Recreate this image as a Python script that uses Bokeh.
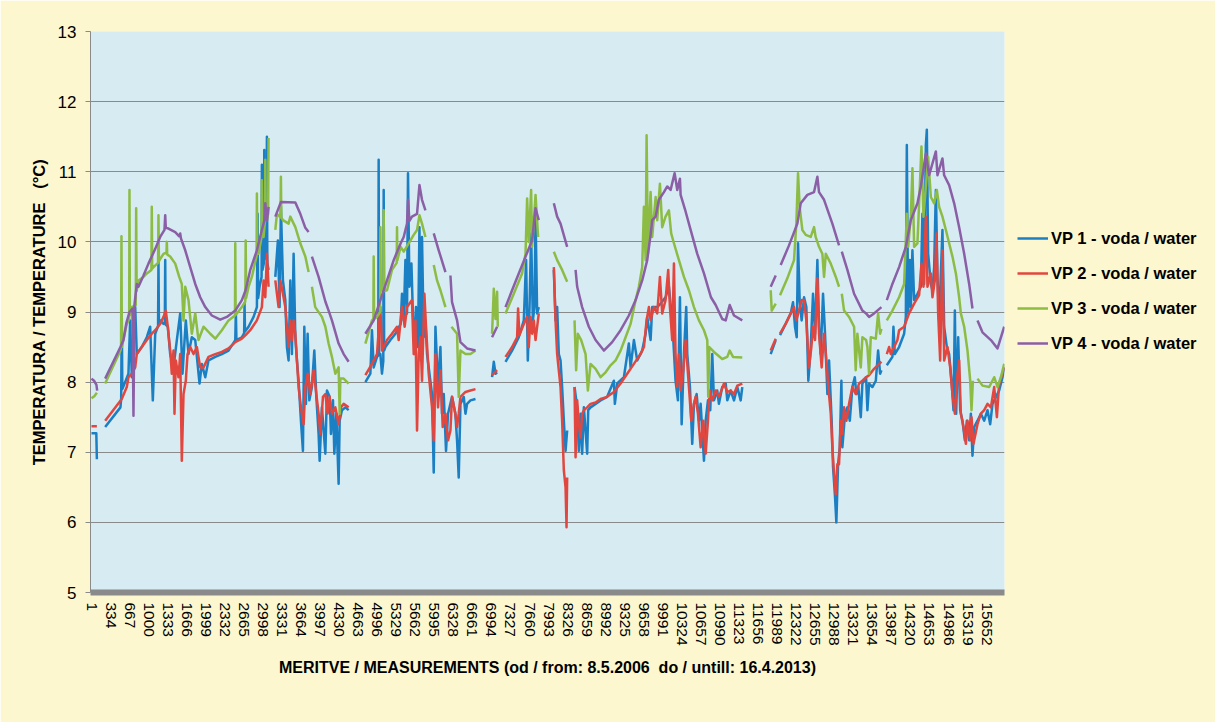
import numpy as np
from bokeh.plotting import figure
from bokeh.models import Range1d, FixedTicker, Legend, LegendItem
from bokeh.embed import file_html
from bokeh.resources import INLINE

# ---------------- data (measurement index, temperature °C); None = no data ----------------
x_tick_values = [1, 334, 667, 1000, 1333, 1666, 1999, 2332, 2665, 2998, 3331, 3664, 3997, 4330,
                 4663, 4996, 5329, 5662, 5995, 6328, 6661, 6994, 7327, 7660, 7993, 8326, 8659,
                 8992, 9325, 9658, 9991, 10324, 10657, 10990, 11323, 11656, 11989, 12322, 12655,
                 12988, 13321, 13654, 13987, 14320, 14653, 14986, 15319, 15652]
x_tick_labels = ["1", "334", "667", "1000", "1333", "1666", "1999", "2332", "2665", "2998", "3331",
                 "3664", "3997", "4330", "4663", "4996", "5329", "5662", "5995", "6328", "6661",
                 "6994", "7327", "7660", "7993", "8326", "8659", "8992", "9325", "9658", "9991",
                 "10324", "10657", "10990", "11323", "11656", "11989", "12322", "12655", "12988",
                 "13321", "13654", "13987", "14320", "14653", "14986", "15319", "15652"]
y_tick_values = [5, 6, 7, 8, 9, 10, 11, 12, 13]

series_names = ["VP 1 - voda / water", "VP 2 - voda / water",
                "VP 3 - voda / water", "VP 4 - voda / water"]

vp1 = [(1, 7.27), (85, 7.27), (95, 6.9), (170, None),
       (240, 7.36), (507, 7.64), (520, 7.76), (530, 8.98), (540, 7.9), (647, 8.12), (677, 8.88),
       (706, 8.07), (765, 9.07), (793, 8.4), (880, 8.5), (968, 8.64), (1027, 8.79), (1073, 7.74),
       (1115, 8.69), (1165, 8.8), (1172, 9.74), (1180, 8.85), (1202, 8.88), (1260, 8.83),
       (1283, 8.85), (1290, 9.74), (1297, 8.82), (1335, 8.79), (1377, 8.4), (1435, 8.21),
       (1493, 8.6), (1552, 8.98), (1592, 8.12), (1650, 8.88), (1697, 8.4), (1755, 8.64),
       (1815, 8.6), (1890, 7.98), (1930, 8.26), (1990, 8.07), (2047, 8.31), (2165, 8.36),
       (2280, 8.4), (2397, 8.45), (2515, 8.6), (2525, 9.0), (2535, 8.6), (2630, 8.64),
       (2670, 8.7), (2677, 9.12), (2685, 8.72), (2747, 8.79), (2835, 8.93), (2893, 9.07),
       (2905, 10.4), (2915, 9.2), (2940, 9.36), (2975, 9.5), (2980, 11.1), (2990, 9.6),
       (3015, 9.7), (3022, 11.31), (3030, 9.75), (3040, 9.83), (3062, 9.9), (3068, 11.5),
       (3075, 9.7), (3097, 9.6), (3150, None),
       (3215, 9.5), (3260, 10.02), (3290, 9.07), (3313, 10.5), (3348, 9.45), (3390, 9.17),
       (3418, 8.5), (3447, 8.31), (3477, 9.45), (3505, 8.4), (3535, 9.83), (3565, 8.64),
       (3593, 8.31), (3622, 8.02), (3663, 7.45), (3698, 7.02), (3722, 8.79), (3750, 7.69),
       (3780, 8.69), (3810, 7.74), (3855, 7.93), (3897, 8.45), (3932, 7.79), (3972, 7.26),
       (3990, 6.88), (4030, 7.64), (4090, 6.98), (4118, 7.88), (4165, 7.79), (4188, 7.26),
       (4223, 7.74), (4247, 6.98), (4282, 7.55), (4322, 6.55), (4340, 7.45), (4380, 7.6),
       (4440, 7.64), (4497, 7.6), (4650, None),
       (4790, 8.0), (4877, 8.12), (4905, 8.74), (4935, 8.21), (4993, 8.36), (5015, 8.38),
       (5022, 11.17), (5030, 8.4), (5052, 8.4), (5080, 8.12), (5103, 8.3), (5110, 10.74),
       (5118, 8.45), (5140, 8.5), (5227, 8.6), (5315, 8.69), (5407, 8.83), (5430, 9.26),
       (5460, 8.88), (5490, 9.74), (5518, 8.98), (5535, 10.98), (5560, 9.36), (5595, 9.69),
       (5617, 9.07), (5652, 8.4), (5675, 9.07), (5710, 8.5), (5735, 10.21), (5757, 8.31),
       (5780, 10.07), (5810, 8.64), (5840, 8.88), (5868, 8.4), (5955, 7.83), (5985, 6.71),
       (6015, 8.79), (6060, 7.93), (6102, 8.5), (6130, 7.55), (6160, 7.83), (6200, 7.02),
       (6235, 7.55), (6305, 7.79), (6363, 7.55), (6393, 7.17), (6422, 6.64), (6452, 7.69),
       (6510, 7.79), (6540, 7.55), (6568, 7.69), (6627, 7.74), (6715, 7.76), (6860, None),
       (7005, 8.07), (7035, 8.29), (7065, 8.12), (7093, 8.14), (7170, None),
       (7240, 8.29), (7355, 8.45), (7472, 8.64), (7560, 8.88), (7600, 9.74), (7630, 8.31),
       (7660, 9.07), (7688, 10.12), (7718, 8.88), (7747, 9.07), (7765, 10.4), (7793, 8.98),
       (7822, 9.07), (7950, None),
       (8085, 9.6), (8115, 8.88), (8143, 9.07), (8172, 8.4), (8202, 8.31), (8230, 7.93),
       (8260, 7.45), (8290, 7.02), (8318, 7.31), (8390, None),
       (8447, 7.93), (8493, 7.64), (8522, 7.02), (8552, 7.55), (8580, 6.98), (8610, 7.64),
       (8668, 6.98), (8686, 7.6), (8727, 7.64), (8815, 7.69), (8902, 7.74), (9018, 7.79),
       (9135, 8.02), (9152, 7.69), (9193, 7.98), (9310, 8.07), (9397, 8.55), (9427, 8.21),
       (9485, 8.6), (9543, 8.31), (9630, 8.45), (9690, 8.69), (9718, 8.93), (9777, 8.6),
       (9805, 9.07), (9893, 9.07), (9952, 9.12), (10038, 9.21), (10097, 9.36), (10155, 8.88),
       (10213, 8.02), (10255, 7.74), (10290, 9.21), (10320, 7.4), (10360, 8.4), (10400, 9.07),
       (10418, 8.4), (10465, 7.93), (10505, 7.12), (10535, 7.69), (10582, 7.83), (10622, 7.45),
       (10652, 7.69), (10710, 6.88), (10740, 7.45), (10780, 7.74), (10820, 7.6), (10855, 8.4),
       (10885, 7.74), (10943, 7.88), (10972, 7.69), (11030, 7.93), (11090, 7.98), (11118, 7.74),
       (11177, 7.88), (11235, 7.74), (11293, 7.93), (11352, 7.74), (11380, 7.93), (11600, None),
       (11877, 8.4), (11965, 8.6), (12005, None),
       (12040, 8.67), (12138, 8.83), (12227, 8.98), (12267, 9.14), (12302, 8.79), (12332, 8.64),
       (12355, 9.98), (12383, 9.17), (12418, 8.88), (12460, 9.21), (12500, 9.07), (12535, 8.02),
       (12577, 8.5), (12617, 9.26), (12652, 8.69), (12693, 9.74), (12722, 8.79), (12752, 8.4),
       (12792, 9.26), (12827, 8.69), (12868, 7.83), (12897, 8.31), (12943, 7.45), (12967, 6.79),
       (13002, 6.36), (13025, 6.0), (13055, 6.83), (13085, 7.07), (13113, 8.02), (13130, 7.07),
       (13177, 7.55), (13218, 7.64), (13260, 7.45), (13305, 7.93), (13347, 8.07), (13375, 7.83),
       (13410, 7.93), (13452, 7.5), (13480, 7.98), (13545, 8.07), (13568, 7.6), (13597, 7.98),
       (13655, 7.93), (13715, 8.02), (13755, 8.45), (13790, 8.12), (13813, 8.17), (13860, None),
       (13907, 8.24), (14005, 8.36), (14023, 8.79), (14047, 8.4), (14122, 8.5), (14210, 8.69),
       (14240, 8.93), (14257, 11.38), (14280, 8.98), (14310, 9.74), (14327, 9.07), (14355, 9.88),
       (14385, 9.17), (14443, 9.26), (14502, 9.36), (14530, 10.4), (14560, 9.4), (14590, 11.38),
       (14607, 11.6), (14630, 9.83), (14677, 9.4), (14705, 9.31), (14735, 9.64), (14765, 10.74),
       (14793, 9.5), (14822, 8.88), (14880, 10.17), (14910, 8.79), (14957, 8.5), (14997, 8.4),
       (15038, 8.02), (15073, 7.6), (15097, 9.02), (15120, 7.55), (15155, 8.64), (15190, 7.6),
       (15230, 7.45), (15272, 7.17), (15307, 7.45), (15347, 7.17), (15377, 7.55), (15405, 6.95),
       (15435, 7.36), (15493, 7.45), (15552, 7.55), (15610, 7.45), (15668, 7.6), (15715, 7.4),
       (15755, 7.69), (15815, 7.79), (15872, 7.88), (15930, 8.07), (15960, 8.21)]

vp2 = [(1, 7.37), (95, 7.37), (170, None),
       (240, 7.45), (530, 7.76), (618, 7.93), (647, 8.07), (706, 8.12), (765, 8.21), (793, 8.4),
       (880, 8.5), (968, 8.6), (1055, 8.69), (1115, 8.74), (1202, 8.83), (1260, 8.93),
       (1300, 9.02), (1335, 8.79), (1377, 8.45), (1405, 8.12), (1435, 8.45), (1452, 7.55),
       (1475, 8.31), (1522, 8.07), (1552, 8.4), (1580, 6.88), (1610, 7.83), (1650, 8.02),
       (1680, 8.4), (1727, 8.5), (1785, 8.4), (1843, 8.5), (1902, 8.21), (1960, 8.21),
       (2047, 8.36), (2165, 8.4), (2280, 8.43), (2397, 8.48), (2515, 8.57), (2630, 8.62),
       (2695, 8.67), (2777, 8.74), (2893, 8.88), (2980, 9.07), (3010, 9.45), (3040, 9.21),
       (3068, 9.83), (3097, 9.36), (3150, None),
       (3215, 9.45), (3272, 9.07), (3302, 9.45), (3348, 9.26), (3390, 9.07), (3418, 8.79),
       (3447, 8.5), (3477, 8.88), (3505, 8.6), (3535, 8.88), (3565, 8.69), (3593, 8.31),
       (3622, 7.93), (3663, 7.64), (3710, 7.4), (3740, 7.93), (3780, 8.12), (3827, 7.83),
       (3885, 8.17), (3932, 7.83), (3972, 7.55), (4002, 7.26), (4048, 7.79), (4090, 7.83),
       (4130, 7.55), (4165, 7.79), (4205, 7.55), (4265, 7.64), (4322, 7.4), (4363, 7.64),
       (4410, 7.69), (4497, 7.64), (4650, None),
       (4790, 8.1), (4905, 8.26), (4993, 8.4), (5052, 9.07), (5080, 8.45), (5168, 8.6),
       (5255, 8.69), (5343, 8.79), (5372, 8.6), (5407, 8.88), (5430, 9.07), (5477, 8.79),
       (5518, 9.07), (5577, 9.14), (5605, 9.17), (5635, 8.4), (5665, 8.88), (5693, 7.31),
       (5722, 8.4), (5752, 8.64), (5780, 8.02), (5822, 9.26), (5850, 8.79), (5897, 8.12),
       (5955, 7.64), (5985, 7.17), (6015, 8.4), (6060, 7.64), (6102, 8.17), (6142, 7.36),
       (6190, 7.55), (6235, 7.17), (6277, 7.31), (6305, 7.79), (6363, 7.55), (6393, 7.36),
       (6422, 7.55), (6452, 7.79), (6540, 7.86), (6627, 7.88), (6715, 7.9), (6860, None),
       (7005, 8.1), (7093, 8.17), (7170, None),
       (7240, 8.36), (7355, 8.5), (7443, 8.64), (7460, 9.05), (7483, 8.67), (7560, 8.83),
       (7618, 8.93), (7647, 8.5), (7677, 8.93), (7705, 8.69), (7735, 8.88), (7765, 8.6),
       (7822, 8.98), (7950, None),
       (8085, 9.64), (8115, 8.88), (8143, 8.4), (8202, 7.93), (8230, 7.45), (8260, 6.74),
       (8290, 6.5), (8307, 5.93), (8318, 6.64), (8390, None),
       (8447, 7.93), (8465, 6.93), (8493, 7.74), (8522, 7.4), (8552, 7.21), (8580, 7.55),
       (8610, 7.6), (8668, 7.64), (8727, 7.69), (8815, 7.71), (8902, 7.76), (9018, 7.79),
       (9135, 7.86), (9252, 7.98), (9368, 8.12), (9485, 8.26), (9602, 8.4), (9660, 8.5),
       (9707, 8.88), (9747, 9.07), (9777, 8.88), (9835, 9.07), (9893, 8.98), (9940, 9.5),
       (9980, 8.98), (10038, 9.17), (10085, 9.6), (10115, 9.07), (10155, 8.6), (10185, 9.69),
       (10213, 8.4), (10243, 7.93), (10272, 8.4), (10302, 7.88), (10348, 8.17), (10390, 8.6),
       (10418, 8.26), (10447, 7.93), (10488, 7.45), (10535, 7.69), (10565, 7.79), (10605, 7.55),
       (10652, 7.07), (10698, 7.45), (10740, 6.98), (10780, 7.45), (10810, 7.88), (10855, 7.74),
       (10915, 7.88), (10972, 7.79), (11060, 7.98), (11118, 7.86), (11177, 7.88), (11235, 7.83),
       (11293, 7.95), (11380, 7.98), (11600, None),
       (11877, 8.45), (11965, 8.62), (12005, None),
       (12040, 8.69), (12138, 8.83), (12227, 8.98), (12285, 9.07), (12325, 8.88), (12372, 9.02),
       (12418, 9.17), (12460, 9.17), (12500, 8.88), (12547, 8.21), (12588, 8.5), (12617, 8.79),
       (12652, 8.6), (12693, 9.48), (12722, 8.69), (12768, 8.21), (12810, 8.69), (12850, 8.31),
       (12885, 7.93), (12927, 7.55), (12955, 7.07), (12985, 6.69), (13015, 6.4), (13043, 6.83),
       (13072, 6.83), (13102, 7.45), (13130, 7.26), (13160, 7.64), (13200, 7.45), (13247, 7.69),
       (13305, 7.93), (13363, 7.83), (13422, 7.98), (13480, 8.02), (13545, 8.07), (13597, 8.1),
       (13685, 8.19), (13772, 8.26), (13813, 8.29), (13860, None),
       (13907, 8.4), (13947, 8.5), (13977, 8.4), (14093, 8.6), (14122, 8.74), (14210, 8.79),
       (14297, 8.98), (14385, 9.12), (14472, 9.24), (14513, 9.69), (14548, 9.36), (14590, 10.36),
       (14618, 9.36), (14677, 9.55), (14705, 9.21), (14747, 9.45), (14775, 10.12), (14805, 8.98),
       (14840, 8.31), (14880, 9.88), (14910, 8.31), (14968, 8.5), (15015, 8.21), (15055, 7.83),
       (15097, 7.55), (15143, 8.12), (15172, 8.31), (15202, 7.55), (15248, 7.36), (15290, 7.12),
       (15318, 7.45), (15365, 7.17), (15388, 7.5), (15423, 7.12), (15493, 7.4), (15552, 7.55),
       (15610, 7.6), (15668, 7.69), (15727, 7.64), (15785, 7.93), (15832, 7.5), (15872, 7.98),
       (15930, 8.12), (15960, 8.21)]

vp3 = [(1, 7.77), (50, 7.8), (95, 7.85), (170, None),
       (240, 7.98), (507, 8.45), (518, 8.5), (525, 10.08), (532, 8.5), (618, 8.83), (660, 8.9),
       (665, 10.74), (672, 8.95), (706, 9.07), (775, 9.1), (782, 10.48), (790, 9.3), (822, 9.45),
       (910, 9.5), (968, 9.55), (1048, 9.6), (1055, 10.5), (1062, 9.62), (1085, 9.64),
       (1165, 9.7), (1172, 10.38), (1180, 9.72), (1190, 9.74), (1260, 9.83), (1312, 9.85),
       (1318, 10.0), (1325, 9.82), (1377, 9.79), (1465, 9.69), (1535, 9.5), (1580, 9.4),
       (1610, 8.88), (1640, 9.36), (1697, 9.17), (1755, 8.69), (1815, 8.98), (1872, 8.6),
       (1960, 8.79), (2077, 8.69), (2165, 8.62), (2280, 8.74), (2397, 8.88), (2510, 8.95),
       (2515, 9.98), (2522, 8.96), (2543, 8.98), (2630, 9.07), (2690, 9.15), (2697, 10.02),
       (2705, 9.2), (2747, 9.36), (2805, 9.5), (2887, 9.8), (2893, 10.69), (2900, 9.83),
       (2922, 9.83), (2975, 10.07), (2980, 10.88), (2988, 10.1), (3010, 10.07), (3035, 10.3),
       (3040, 11.17), (3048, 10.31), (3068, 10.31), (3090, 10.4), (3097, 11.48), (3150, None),
       (3215, 10.17), (3243, 10.4), (3305, 10.35), (3313, 10.93), (3320, 10.35), (3348, 10.31),
       (3447, 10.26), (3477, 10.36), (3565, 10.21), (3652, 9.98), (3740, 9.79), (3797, 9.57),
       (3825, None),
       (3855, 9.36), (3913, 9.07), (4030, 8.93), (4090, 8.79), (4147, 8.55), (4205, 8.36),
       (4265, 8.12), (4322, 8.21), (4340, 7.55), (4352, 8.05), (4410, 8.05), (4497, 7.98),
       (4650, None),
       (4790, 8.55), (4905, 8.88), (4930, 8.9), (4935, 9.79), (4942, 8.9), (4993, 8.93),
       (5047, 9.0), (5052, 10.21), (5060, 9.3), (5080, 9.31), (5105, 9.35), (5110, 10.45),
       (5118, 9.3), (5168, 9.31), (5255, 9.6), (5337, 9.7), (5343, 10.21), (5350, 9.74),
       (5407, 9.93), (5460, 9.86), (5547, 9.98), (5635, 10.1), (5693, 10.17), (5735, 10.38),
       (5780, 10.26), (5840, 10.07), (5910, None),
       (5985, 9.67), (6043, 9.45), (6102, 9.31), (6190, 9.07), (6240, None),
       (6295, 8.79), (6393, 8.69), (6422, 7.79), (6452, 8.45), (6540, 8.4), (6627, 8.4),
       (6715, 8.45), (6860, None),
       (7005, 8.69), (7035, 9.33), (7065, 8.9), (7093, 9.29), (7105, 8.79), (7170, None),
       (7240, 8.98), (7385, 9.26), (7530, 9.55), (7590, 9.83), (7618, 10.62), (7647, 10.0),
       (7688, 10.74), (7705, 9.93), (7765, 10.67), (7810, 10.07), (7950, None),
       (8085, 9.86), (8143, 9.74), (8230, 9.6), (8318, 9.43), (8390, None),
       (8447, 8.88), (8475, 8.17), (8505, 8.69), (8563, 8.6), (8640, 8.4), (8680, 7.88),
       (8727, 8.26), (8815, 8.19), (8902, 8.07), (8990, 8.14), (9077, 8.24), (9165, 8.31),
       (9252, 8.45), (9340, 8.64), (9427, 8.83), (9515, 9.17), (9572, 9.36), (9630, 9.64),
       (9660, 10.5), (9690, 9.74), (9707, 11.52), (9730, 9.83), (9777, 10.71), (9805, 10.07),
       (9865, 10.64), (9893, 10.31), (9940, 10.83), (9980, 10.21), (10038, 10.36),
       (10097, 10.45), (10137, 10.12), (10185, 9.98), (10272, 9.74), (10360, 9.5),
       (10447, 9.31), (10535, 9.07), (10622, 8.88), (10710, 8.74), (10768, 8.6), (10785, 7.79),
       (10803, 8.5), (10885, 8.43), (11030, 8.33), (11118, 8.36), (11160, 8.45), (11218, 8.36),
       (11380, 8.35), (11600, None),
       (11877, 9.31), (11895, 9.02), (11965, 9.12), (12005, None),
       (12040, 9.24), (12168, 9.48), (12285, 9.74), (12325, 10.26), (12355, 10.98),
       (12383, 10.5), (12430, 10.17), (12490, 10.1), (12577, 10.07), (12635, 10.21),
       (12663, 10.07), (12722, 9.93), (12780, 9.83), (12810, 9.5), (12840, 9.83), (12927, 9.69),
       (13015, 9.5), (13072, 9.36), (13095, None),
       (13120, 9.26), (13160, 9.02), (13247, 8.93), (13335, 8.79), (13363, 8.17), (13393, 8.69),
       (13452, 8.21), (13480, 8.64), (13545, 8.6), (13568, 8.5), (13597, 8.12), (13627, 8.64),
       (13715, 8.62), (13755, 8.98), (13790, 8.69), (13813, 8.76), (13860, None),
       (13907, 8.88), (14005, 9.02), (14122, 9.21), (14210, 9.4), (14257, 10.4), (14280, 9.93),
       (14327, 10.36), (14355, 11.05), (14385, 9.93), (14443, 9.98), (14513, 11.36),
       (14548, 10.36), (14590, 10.79), (14630, 11.21), (14677, 10.64), (14735, 10.55),
       (14782, 10.74), (14822, 10.5), (14880, 10.36), (14940, 10.17), (14997, 9.98),
       (15055, 9.79), (15115, 9.55), (15172, 9.21), (15202, 8.98), (15260, 8.79), (15318, 8.45),
       (15365, 8.02), (15388, 7.6), (15412, 8.02), (15450, None),
       (15493, 8.05), (15580, 7.95), (15697, 7.93), (15785, 8.07), (15843, 7.93), (15902, 8.07),
       (15960, 8.26)]

vp4 = [(1, 8.05), (45, 8.02), (87, 7.96), (100, 7.88), (170, None),
       (240, 8.05), (507, 8.5), (560, 8.6), (612, 8.85), (665, 9.0), (717, 9.05), (735, 7.52),
       (752, 9.1), (793, 9.4), (822, 9.36), (910, 9.52), (997, 9.69), (1115, 9.9), (1202, 10.07),
       (1277, 10.17), (1290, 10.38), (1300, 10.2), (1347, 10.19), (1465, 10.14), (1535, 10.08),
       (1552, 10.12), (1565, 10.05), (1640, 9.88), (1727, 9.64), (1815, 9.4), (1902, 9.21),
       (1990, 9.07), (2105, 8.95), (2252, 8.89), (2368, 8.93), (2515, 9.02), (2630, 9.17),
       (2695, 9.31), (2777, 9.6), (2893, 9.88), (2980, 10.17), (3022, 10.3), (3040, 10.55),
       (3068, 10.3), (3097, 10.5), (3150, None),
       (3215, 10.36), (3313, 10.57), (3565, 10.56), (3652, 10.4), (3740, 10.2), (3797, 10.14),
       (3825, None),
       (3855, 9.79), (3972, 9.5), (4090, 9.15), (4147, 9.02), (4205, 8.88), (4322, 8.55),
       (4410, 8.4), (4497, 8.29), (4650, None),
       (4790, 8.69), (4935, 8.88), (5052, 9.17), (5168, 9.45), (5285, 9.74), (5407, 9.98),
       (5460, 10.07), (5518, 10.26), (5535, 10.6), (5560, 10.3), (5605, 10.36), (5693, 10.4),
       (5735, 10.81), (5780, 10.6), (5840, 10.45), (5910, None),
       (5985, 10.12), (6072, 9.88), (6190, 9.57), (6235, None),
       (6277, 9.52), (6305, 9.14), (6393, 8.88), (6452, 8.57), (6568, 8.48), (6715, 8.45),
       (6860, None),
       (7005, 8.64), (7093, 8.79), (7170, None),
       (7240, 9.07), (7355, 9.31), (7472, 9.55), (7590, 9.79), (7705, 10.02), (7765, 10.48),
       (7822, 10.31), (7950, None),
       (8085, 10.55), (8143, 10.36), (8202, 10.26), (8318, 9.93), (8390, None),
       (8465, 9.6), (8493, 9.36), (8580, 9.07), (8697, 8.79), (8815, 8.6), (8960, 8.45),
       (9105, 8.57), (9252, 8.74), (9397, 8.95), (9515, 9.17), (9630, 9.45), (9718, 9.74),
       (9777, 10.1), (9805, 10.31), (9865, 10.36), (9922, 10.6), (10010, 10.71), (10068, 10.79),
       (10127, 10.74), (10197, 10.98), (10243, 10.74), (10290, 10.9), (10302, 10.67),
       (10390, 10.43), (10477, 10.17), (10593, 9.83), (10710, 9.55), (10832, 9.21),
       (10915, 9.1), (11030, 8.9), (11090, 8.88), (11160, 9.1), (11235, 8.95), (11380, 8.88),
       (11600, None),
       (11877, 9.36), (11965, 9.52), (12010, None),
       (12052, 9.67), (12197, 9.95), (12343, 10.26), (12402, 10.55), (12518, 10.67),
       (12635, 10.71), (12693, 10.93), (12722, 10.71), (12810, 10.6), (12955, 10.26),
       (13072, 9.95), (13095, None),
       (13120, 9.86), (13218, 9.6), (13335, 9.26), (13480, 9.02), (13545, 8.98), (13597, 8.93),
       (13685, 8.98), (13813, 9.07), (13860, None),
       (13907, 9.17), (14005, 9.4), (14122, 9.64), (14240, 9.93), (14327, 10.31), (14443, 10.55),
       (14502, 10.79), (14590, 11.26), (14647, 10.95), (14765, 11.29), (14793, 10.95),
       (14880, 11.19), (14910, 10.95), (14997, 10.81), (15085, 10.55), (15172, 10.21),
       (15260, 9.83), (15347, 9.4), (15405, 9.05), (15450, None),
       (15493, 8.88), (15580, 8.71), (15727, 8.6), (15843, 8.48), (15960, 8.79)]

series_colors = ["#1b7fc4", "#e2473f", "#8dbc45", "#8b5fa6"]

FONT = "Liberation Sans"
NBSP = "\u00a0"


def unpack(points):
    xs = np.array([pt[0] for pt in points], dtype=float)
    ys = np.array([np.nan if pt[1] is None else pt[1] for pt in points], dtype=float)
    return xs, ys


p = figure(frame_width=914, frame_height=561,
           x_range=Range1d(-16.5, 15965), y_range=Range1d(5, 13),
           output_backend="svg", toolbar_location=None,
           min_border_left=90, min_border_right=209, min_border_top=31, min_border_bottom=130,
           background_fill_color="#d6ebf2", border_fill_color="#fcf7cf",
           outline_line_color=None)

# axes
p.xaxis.ticker = FixedTicker(ticks=x_tick_values)
p.xaxis.major_label_overrides = {v: s for v, s in zip(x_tick_values, x_tick_labels)}
p.xaxis.major_label_orientation = "vertical"
p.xaxis.major_label_text_font = FONT
p.xaxis.major_label_text_font_size = "15.5px"
p.xaxis.major_label_text_color = "#000000"
p.xaxis.major_label_standoff = 10
p.xaxis.major_tick_line_color = None
p.xaxis.minor_tick_line_color = None
p.xaxis.major_tick_out = 0
p.xaxis.major_tick_in = 0
p.xaxis.axis_line_color = "#8a8a8a"
p.xaxis.axis_line_width = 6
p.xaxis.axis_label = ("MERITVE / MEASUREMENTS (od / from: 8.5.2006" + NBSP + " do / untill: 16.4.2013)")
p.xaxis.axis_label_text_font = FONT
p.xaxis.axis_label_text_font_style = "bold"
p.xaxis.axis_label_text_font_size = "16px"
p.xaxis.axis_label_text_color = "#000000"
p.xaxis.axis_label_standoff = 10

p.yaxis.ticker = FixedTicker(ticks=y_tick_values)
p.yaxis.major_label_text_font = FONT
p.yaxis.major_label_text_font_size = "17px"
p.yaxis.major_label_text_color = "#000000"
p.yaxis.major_label_standoff = 9
p.yaxis.major_tick_out = 5
p.yaxis.major_tick_in = 0
p.yaxis.major_tick_line_color = "#8a8a8a"
p.yaxis.minor_tick_line_color = None
p.yaxis.axis_line_color = "#8a8a8a"
p.yaxis.axis_label = "TEMPERATURA / TEMPERATURE" + NBSP + NBSP + " (°C)"
p.yaxis.axis_label_text_font = FONT
p.yaxis.axis_label_text_font_style = "bold"
p.yaxis.axis_label_text_font_size = "16.5px"
p.yaxis.axis_label_text_color = "#000000"
p.yaxis.axis_label_standoff = 7

p.xgrid.visible = False
p.ygrid.grid_line_color = "#8a8a8a"
p.ygrid.grid_line_width = 1

items = []
for name, pts, color in zip(series_names, [vp1, vp2, vp3, vp4], series_colors):
    xs, ys = unpack(pts)
    r = p.line(xs, ys, line_color=color, line_width=2.5, line_join="round")
    items.append(LegendItem(label=name, renderers=[r]))

legend = Legend(items=items, location=(13, 239), orientation="vertical",
                glyph_width=31, glyph_height=20, label_height=20, spacing=15,
                padding=0, margin=0, label_standoff=3,
                label_text_font=FONT, label_text_font_style="bold",
                label_text_font_size="16.5px", label_text_color="#000000",
                border_line_color=None, background_fill_alpha=0)
p.add_layout(legend, "right")

open("out.html", "w").write(file_html(p, INLINE))
